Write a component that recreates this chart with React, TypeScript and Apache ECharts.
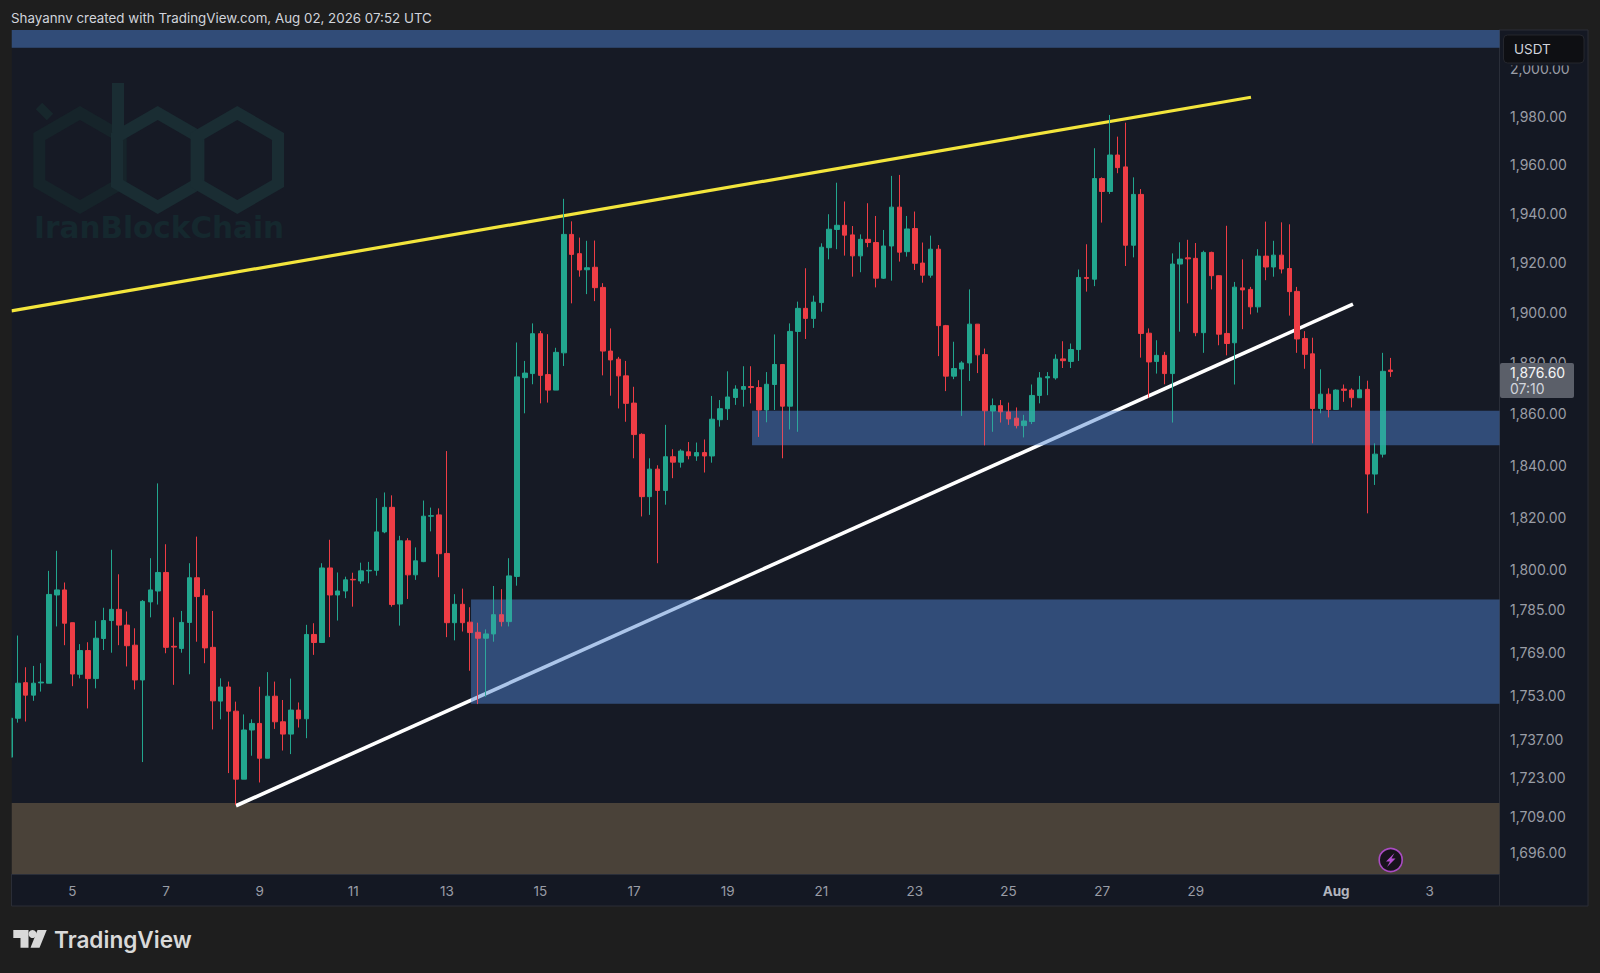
import React, { useEffect, useRef } from "react";
import * as echarts from "echarts";

const title = "Shayannv created with TradingView.com, Aug 02, 2026 07:52 UTC";
const lastPrice = "1,876.60";
const countdown = "07:10";
const currency = "USDT";
const watermark = "IranBlockChain";
const brand = "TradingView";

const priceTicks = [2000, 1980, 1960, 1940, 1920, 1900, 1880, 1860, 1840, 1820, 1800, 1785, 1769, 1753, 1737, 1723, 1709, 1696];
const dayTicks = ["2026-07-05", "2026-07-07", "2026-07-09", "2026-07-11", "2026-07-13", "2026-07-15", "2026-07-17", "2026-07-19", "2026-07-21", "2026-07-23", "2026-07-25", "2026-07-27", "2026-07-29", "2026-08-01", "2026-08-03"];
const dayLabels = ["5", "7", "9", "11", "13", "15", "17", "19", "21", "23", "25", "27", "29", "Aug", "3"];

const firstCandle = Date.UTC(2026, 6, 3, 16);
const candleStep = 4 * 3600 * 1000;

const opens = [
  1730.5, 1744.7, 1757.8, 1753.2, 1757.7, 1757.6, 1790.5, 1792.4, 1780.1, 1760.9,
  1769.7, 1759.3, 1774.2, 1780.9, 1785.1, 1779.2, 1771.7, 1758.8, 1787.9, 1792,
  1799, 1771.3, 1770.5, 1780.2, 1797, 1790.2, 1770.9, 1751, 1756.2, 1747.3,
  1722.5, 1740.4, 1742.8, 1730.1, 1752.8, 1743.4, 1738.9, 1747.7, 1744.5, 1775.7,
  1772.7, 1800.7, 1790.5, 1792, 1796.4, 1795.8, 1799.6, 1799.8, 1814.4, 1823.8,
  1787.1, 1811, 1798.1, 1803.1, 1820.4, 1820.9, 1806.2, 1780.1, 1787, 1780.3,
  1776.5, 1774.3, 1775.9, 1783.1, 1780.5, 1797.5, 1874.2, 1875.8, 1891.6, 1875.4,
  1869.3, 1884, 1931.5, 1923.7, 1917.2, 1918.2, 1910.1, 1884.7, 1881.5, 1874.9,
  1864.2, 1852, 1827.9, 1838.5, 1830.3, 1843.3, 1841.2, 1845.2, 1843.6, 1844.9,
  1843.6, 1857.7, 1862, 1866.4, 1869.6, 1870.7, 1870.3, 1861.5, 1871.5, 1879.4,
  1863, 1892.5, 1901.7, 1897.7, 1904, 1926.1, 1933.5, 1935.2, 1931.3, 1922.8,
  1929.5, 1928.2, 1913.8, 1926.8, 1942.6, 1924.5, 1933.9, 1919.9, 1915, 1925.5,
  1894.8, 1874.8, 1877.6, 1880, 1895.4, 1883.3, 1861.1, 1863.2, 1860.7, 1858.3,
  1855.4, 1857, 1867.2, 1874.1, 1874.1, 1881.6, 1880.6, 1885.3, 1914.1, 1913.4,
  1954.3, 1949, 1964, 1959.1, 1927.1, 1947.8, 1891.8, 1880.6, 1883, 1875.8,
  1919.5, 1922, 1921.8, 1892, 1924.2, 1914.8, 1891.7, 1888, 1909.9, 1909.3,
  1902.3, 1922.7, 1918.3, 1923.1, 1917.7, 1908.5, 1889.7, 1883.6, 1862.1, 1867.7,
  1861.7, 1869.7, 1869.3, 1866.3, 1869.6, 1836.6, 1844.3, 1877.2,
];
const closes = [
  1744.7, 1757.6, 1753.2, 1757.6, 1758, 1790.7, 1792.4, 1779.9, 1761, 1769.7,
  1759.3, 1774.3, 1780.9, 1785.1, 1779.2, 1771.5, 1758.8, 1788.1, 1792.4, 1799,
  1770.9, 1771, 1780.2, 1797, 1789.9, 1770.7, 1751.1, 1756.2, 1747.3, 1722.5,
  1740.4, 1742.8, 1730.1, 1752.8, 1743.4, 1738.9, 1747.7, 1744.5, 1775.7, 1772.7,
  1800.7, 1790.5, 1792, 1796.2, 1796.2, 1799.6, 1799.8, 1814.4, 1823.8, 1786.9,
  1811, 1798.1, 1803.4, 1820.4, 1820.6, 1806.1, 1780.1, 1787, 1780.1, 1776.4,
  1774.3, 1775.9, 1783.1, 1780.5, 1797.7, 1874.5, 1876, 1891.6, 1875.1, 1869.3,
  1884.2, 1931.5, 1923.4, 1917.1, 1918, 1910, 1884.7, 1881.2, 1874.9, 1864.1,
  1851.9, 1827.9, 1838.5, 1830.3, 1843.3, 1841.2, 1845.5, 1843.7, 1844.9, 1843.6,
  1857.9, 1862, 1866.6, 1869.7, 1870.7, 1870.3, 1861.5, 1871.6, 1879.4, 1863,
  1892.5, 1901.7, 1897.7, 1904.2, 1926.3, 1933.6, 1935.2, 1931.2, 1922.8, 1929.5,
  1928.2, 1913.8, 1926.8, 1942.6, 1924.3, 1933.7, 1919.8, 1915, 1925.5, 1894.8,
  1874.8, 1877.8, 1880, 1895.4, 1883.2, 1861.2, 1863.2, 1860.8, 1858, 1855.4,
  1857.2, 1867.2, 1874.1, 1874.6, 1881.5, 1880.9, 1885.3, 1914.1, 1913.7, 1954.3,
  1949, 1964, 1958.8, 1927.1, 1947.8, 1891.7, 1880.4, 1883, 1875.8, 1919.5,
  1921.5, 1921.6, 1892, 1924.2, 1914.8, 1891.4, 1887.7, 1910.2, 1909.1, 1902.3,
  1922.7, 1918.3, 1923.1, 1917.5, 1908.4, 1889.5, 1883.4, 1862.1, 1867.7, 1861.7,
  1869.3, 1869.2, 1866.3, 1869.4, 1836.6, 1844.3, 1876.7, 1876.6,
];
const lows = [
  1730.5, 1743.1, 1743.5, 1751.1, 1754.5, 1757.6, 1778.7, 1771.7, 1756.5, 1759.4,
  1748.3, 1755.7, 1769.9, 1768.9, 1771.7, 1763.8, 1755.3, 1728.7, 1782.1, 1786.9,
  1768.7, 1757, 1768.9, 1760.9, 1773, 1765, 1740.6, 1744.3, 1724.7, 1713.2,
  1722.5, 1731, 1721.3, 1730.1, 1740.8, 1732.9, 1731.6, 1741.3, 1737.4, 1768.1,
  1772.5, 1774.7, 1780.9, 1789.3, 1786.1, 1794.7, 1794.9, 1797.8, 1813.9, 1786.1,
  1779, 1789, 1796.2, 1802.9, 1814.6, 1797.2, 1774.7, 1773.5, 1776.8, 1762.2,
  1749.9, 1752.6, 1773, 1778.7, 1778.7, 1794, 1860.2, 1871.6, 1864.1, 1864.4,
  1869.3, 1878.8, 1903.7, 1914.4, 1907.4, 1904.6, 1875.1, 1867.1, 1862.1, 1856.9,
  1842.7, 1820.3, 1820.9, 1802.5, 1824.8, 1835, 1839.1, 1842.3, 1841.7, 1837.2,
  1841, 1855, 1857.6, 1863.5, 1862.8, 1864.1, 1851, 1856.7, 1861.5, 1842.7,
  1853.9, 1853, 1889.5, 1893.9, 1900.4, 1921.4, 1925.5, 1922.9, 1914.4, 1916.2,
  1926.3, 1910.1, 1913.5, 1912.8, 1920.5, 1922.5, 1917.1, 1912, 1914, 1882.7,
  1868.9, 1873.6, 1859.2, 1872.9, 1876, 1847.7, 1853, 1856.6, 1855.7, 1854.3,
  1850.8, 1856, 1864.1, 1867.3, 1873.4, 1878, 1878, 1880.8, 1908.4, 1910.6,
  1936.3, 1948, 1956.5, 1918.7, 1922.2, 1882.1, 1866.3, 1875.8, 1871.6, 1856.6,
  1892.4, 1903.7, 1890.6, 1884, 1909.3, 1887, 1883, 1871.5, 1893.4, 1899.3,
  1900, 1913, 1914.4, 1915.7, 1898.8, 1884, 1877.7, 1848.5, 1860.2, 1858.6,
  1861.5, 1864.7, 1862.5, 1866.3, 1821.5, 1832.4, 1843, 1874.5,
];
const highs = [
  1744.7, 1775.3, 1763.5, 1764, 1765, 1799.6, 1807.2, 1795.2, 1780.1, 1772.1,
  1772.8, 1780.8, 1785.7, 1807.6, 1798.3, 1784.3, 1778, 1788.6, 1804.4, 1833,
  1809.7, 1782.1, 1784.5, 1802.5, 1812.6, 1792.7, 1784.5, 1759.4, 1758.2, 1750.8,
  1746.1, 1744.3, 1756.3, 1761.7, 1758.2, 1751.4, 1759.3, 1750.5, 1779.3, 1779.9,
  1802.5, 1811.4, 1799, 1797.4, 1798.9, 1802.7, 1803, 1827.3, 1829.5, 1828.4,
  1812.9, 1812, 1808.5, 1826.4, 1823.7, 1823.4, 1845.5, 1790.8, 1792.9, 1785.9,
  1780.1, 1777.6, 1793.9, 1792.7, 1804.4, 1888.1, 1880.8, 1895.7, 1892.7, 1891.4,
  1886, 1946, 1936.8, 1930.2, 1928.9, 1929, 1911.8, 1893.7, 1882.4, 1880.8,
  1870.6, 1852.4, 1842.7, 1840, 1855.7, 1846.2, 1846.2, 1849, 1848.8, 1850,
  1867, 1865.4, 1876.7, 1871.2, 1878.7, 1878.7, 1873.2, 1876.4, 1891.3, 1879.4,
  1895.7, 1904.4, 1917.8, 1906.8, 1927.9, 1939.7, 1952.6, 1944.9, 1934.9, 1931.5,
  1944.2, 1939, 1933.3, 1955.4, 1955.8, 1939, 1940.8, 1928.2, 1931, 1927.2,
  1895.1, 1888.4, 1880.7, 1909.3, 1895.4, 1885.7, 1866, 1865.4, 1864.4, 1862.5,
  1859.6, 1871.5, 1876.4, 1876.4, 1883.4, 1888.6, 1887.7, 1917.3, 1927.5, 1966.8,
  1954.8, 1980.6, 1971.6, 1977.4, 1954.8, 1950, 1893.7, 1889, 1884.4, 1923.8,
  1928.3, 1929.3, 1928, 1924.9, 1924.5, 1915, 1935, 1912.3, 1921.4, 1910.3,
  1925.5, 1936.7, 1928.9, 1936.4, 1935.6, 1910.3, 1892.6, 1890, 1877.5, 1870,
  1869.6, 1871.5, 1870, 1874.9, 1873, 1848.5, 1884, 1882,
];

const xMin = Date.UTC(2026, 6, 3, 16, 47);
const xMax = Date.UTC(2026, 7, 4, 11, 46);
const yMin = 1688.5;
const yMax = 2016.3;

const resistanceLine = [
  [xMin, 1900.7],
  [Date.UTC(2026, 6, 30, 4, 20), 1988],
];
const supportLine = [
  [Date.UTC(2026, 6, 8, 11, 54), 1712.9],
  [Date.UTC(2026, 7, 1, 8, 38), 1903.4],
];

const topZone = [xMin, xMax, 2008.8, yMax];
const midZone = [Date.UTC(2026, 6, 19, 12, 30), xMax, 1847.8, 1861.2];
const lowZone = [Date.UTC(2026, 6, 13, 12, 25), xMax, 1750, 1788.8];
const baseZone = [xMin, xMax, yMin, 1713.9];

const zoneArea = (z: number[]) => [
  { xAxis: z[0], yAxis: z[2] },
  { xAxis: z[1], yAxis: z[3] },
];

const UP = "#22a68e";
const DOWN = "#ee3d45";
const FONT = "Inter";
const PANEL = "#141823";
const PAGE = "#1e1e1e";

const wmHex = (cx: number, cy: number, r: number) => {
  const h = r * 0.866;
  return [
    [cx, cy - r],
    [cx + h, cy - r / 2],
    [cx + h, cy + r / 2],
    [cx, cy + r],
    [cx - h, cy + r / 2],
    [cx - h, cy - r / 2],
  ];
};

const label = (text: string, x: number, y: number, fill: string, font: string, z = 50) => ({
  type: "text",
  x,
  y,
  z,
  silent: true,
  style: { text, fill, font, textVerticalAlign: "middle", textBaseline: "middle" },
});

export default function App() {
  const ref = useRef<HTMLDivElement>(null);
  useEffect(() => {
    document.body.style.margin = "0";
    const chart = echarts.init(ref.current!, undefined, { renderer: "svg" });
    const candles = opens.map((o, i) => [firstCandle + i * candleStep, o, closes[i], lows[i], highs[i]]);
    const dayValues = dayTicks.map((d) => Date.parse(d + "T00:00:00Z"));
    const zones = [topZone, midZone, lowZone];
    chart.setOption({
      animation: false,
      backgroundColor: PAGE,
      grid: {
        show: true,
        left: 11.5,
        right: 100.5,
        top: 30,
        bottom: 99,
        backgroundColor: "#161a25",
        borderWidth: 0,
      },
      xAxis: {
        type: "value",
        scale: true,
        min: xMin,
        max: xMax,
        axisLine: { show: true, lineStyle: { color: "#2a2e39", width: 1 } },
        axisTick: { show: false },
        splitLine: { show: false },
        axisLabel: {
          customValues: dayValues,
          color: "#9a9da6",
          fontFamily: FONT,
          fontSize: 13.5,
          margin: 10,
          hideOverlap: false,
          formatter: (v: number) => {
            const t = dayLabels[dayValues.indexOf(v)];
            return t === "Aug" ? "{b|Aug}" : t;
          },
          rich: { b: { fontWeight: 700, color: "#b2b5be", fontFamily: FONT, fontSize: 13.5 } },
        },
      },
      yAxis: {
        type: "log",
        logBase: 10,
        min: yMin,
        max: yMax,
        position: "right",
        axisLine: { show: true, lineStyle: { color: "#2a2e39", width: 1 } },
        axisTick: { show: false },
        splitLine: { show: false },
        axisLabel: {
          customValues: priceTicks,
          color: "#9a9da6",
          fontFamily: FONT,
          fontSize: 14,
          margin: 10.5,
          align: "left",
          hideOverlap: false,
          formatter: (v: number) =>
            v.toLocaleString("en-US", { minimumFractionDigits: 2, maximumFractionDigits: 2 }),
        },
      },
      series: [
        {
          type: "line",
          name: "base",
          data: [],
          z: 2,
          silent: true,
          markArea: {
            silent: true,
            z: 2,
            itemStyle: { color: "#4a4239" },
            data: [zoneArea(baseZone)],
          },
        },
        {
          type: "line",
          name: "resistance",
          data: resistanceLine,
          z: 3,
          silent: true,
          showSymbol: false,
          symbol: "none",
          lineStyle: { color: "#f3e53c", width: 3.2 },
        },
        {
          type: "line",
          name: "support",
          data: supportLine,
          z: 3,
          silent: true,
          showSymbol: false,
          symbol: "none",
          lineStyle: { color: "#ffffff", width: 3.6 },
        },
        {
          type: "line",
          name: "zones",
          data: [],
          z: 4,
          silent: true,
          markArea: {
            silent: true,
            z: 4,
            itemStyle: { color: "rgba(65,120,195,0.4)" },
            data: zones.map(zoneArea),
          },
        },
        {
          type: "candlestick",
          name: "price",
          z: 5,
          silent: true,
          barWidth: 5,
          encode: { x: 0, y: [1, 2, 3, 4] },
          data: candles,
          itemStyle: {
            color: UP,
            color0: DOWN,
            borderColor: UP,
            borderColor0: DOWN,
            borderWidth: 1,
          },
        },
        {
          type: "line",
          name: "zones-top",
          data: [],
          z: 6,
          silent: true,
          markArea: {
            silent: true,
            z: 6,
            itemStyle: { color: "rgba(120,170,255,0.13)" },
            data: zones.map(zoneArea),
          },
        },
      ],
      graphic: [
        { type: "rect", z: -1, silent: true, shape: { x: 1499.5, y: 30, width: 88.5, height: 876 }, style: { fill: PANEL, stroke: "#2a2d36", lineWidth: 1 } },
        { type: "rect", z: -1, silent: true, shape: { x: 11.5, y: 874, width: 1488, height: 32 }, style: { fill: PANEL, stroke: "#2a2d36", lineWidth: 1 } },
        // page margin that trims the candle cut by the left plot edge
        { type: "rect", z: 7, silent: true, shape: { x: 0, y: 30, width: 11.5, height: 844 }, style: { fill: PAGE } },
        // watermark
        ...[
          [80, 160, "#16242a"],
          [157.7, 160, "#1a2d33"],
          [237.3, 160, "#1a2d33"],
        ].map(([cx, cy, c]) => ({
          type: "polygon",
          z: 1,
          silent: true,
          shape: { points: wmHex(cx as number, cy as number, 47) },
          style: { fill: "none", stroke: c as string, lineWidth: 12 },
        })),
        { type: "line", z: 1, silent: true, shape: { x1: 118, y1: 83, x2: 118, y2: 132 }, style: { stroke: "#1a2d33", lineWidth: 12 } },
        { type: "line", z: 1, silent: true, shape: { x1: 39, y1: 106, x2: 50, y2: 117 }, style: { stroke: "#17272c", lineWidth: 9 } },
        label(watermark, 34, 228, "#15282e", "bold 29.5px 'DejaVu Sans'", 1),
        // header and footer
        label(title, 11, 17.5, "#d1d4dc", `13.35px ${FONT}`),
        {
          type: "polygon", z: 50, silent: true,
          shape: { points: [[13.3, 930], [28.5, 930], [28.5, 947.7], [20.5, 947.7], [20.5, 938], [13.3, 938]] },
          style: { fill: "#d9d9d9" },
        },
        { type: "circle", z: 50, silent: true, shape: { cx: 32.5, cy: 934, r: 4 }, style: { fill: "#d9d9d9" } },
        {
          type: "polygon", z: 50, silent: true,
          shape: { points: [[37.5, 930], [46.7, 930], [39.5, 947.7], [30.5, 947.7]] },
          style: { fill: "#d9d9d9" },
        },
        label(brand, 54, 939, "#d9d9d9", `600 22.6px ${FONT}`),
        // price scale overlays
        { type: "rect", z: 49, silent: true, shape: { x: 1503, y: 63, width: 80, height: 2.5 }, style: { fill: PANEL } },
        { type: "rect", z: 50, silent: true, shape: { x: 1503.5, y: 35, width: 80.5, height: 28, r: 4 }, style: { fill: "#0e0f13", stroke: "#24262d", lineWidth: 1 } },
        label(currency, 1514, 49, "#d1d4dc", `13.5px ${FONT}`),
        { type: "rect", z: 50, silent: true, shape: { x: 1500, y: 363, width: 74, height: 35, r: 2 }, style: { fill: "#5b5f69" } },
        label(lastPrice, 1510, 372, "#f5f5f5", `14px ${FONT}`, 51),
        label(countdown, 1510, 388, "#d1d4dc", `14px ${FONT}`, 51),
        // bolt badge
        { type: "circle", z: 50, silent: true, shape: { cx: 1390.7, cy: 860, r: 11.5 }, style: { fill: "#17131b", stroke: "#a94bc2", lineWidth: 1.6 } },
        {
          type: "polygon", z: 51, silent: true,
          shape: { points: [[1394.5, 853], [1386, 861.5], [1390, 861.5], [1387, 867], [1395.5, 858.5], [1391.5, 858.5]] },
          style: { fill: "#b44fd0" },
        },
      ],
    });
    return () => chart.dispose();
  }, []);
  return <div ref={ref} style={{ position: "absolute", left: 0, top: 0, width: 1600, height: 973 }} />;
}
